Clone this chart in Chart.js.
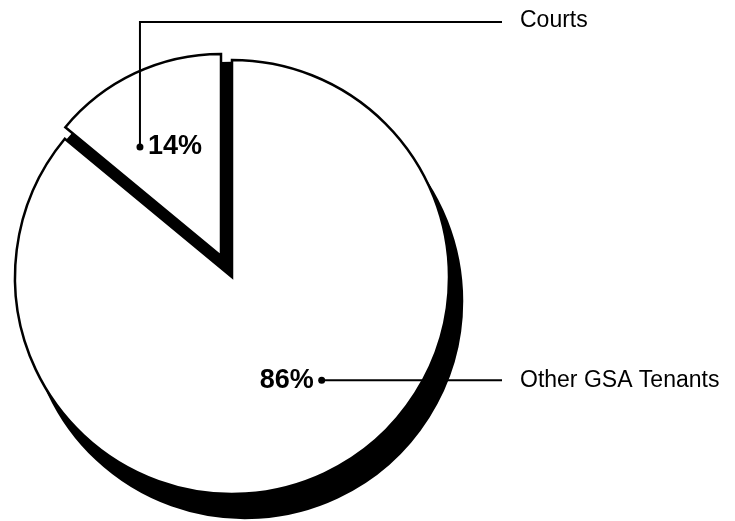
<!DOCTYPE html>
<html>
<head>
<meta charset="utf-8">
<script src="https://cdn.jsdelivr.net/npm/chart.js@4.4.1/dist/chart.umd.min.js"></script>
<style>
  html, body { margin: 0; padding: 0; background: #fff; }
  #wrap { position: relative; width: 735px; height: 521px; }
  #wrap canvas { position: absolute; left: 0; top: 0; }
</style>
</head>
<body>
<div id="wrap">
  <canvas id="courtsShadow" width="735" height="521"></canvas>
  <canvas id="otherShadow" width="735" height="521"></canvas>
  <canvas id="courtsPie" width="735" height="521"></canvas>
  <canvas id="otherPie" width="735" height="521"></canvas>
</div>
<script>
// share of space, percent
const tenants = ['Courts', 'Other GSA Tenants']
const shares = [14, 86]
const shareLabels = ['14%', '86%']

const W = 735, H = 521
const clear = 'rgba(0,0,0,0)'

// the little slice is pulled out, so each slice gets its own center
const courtsGeo = { x: 221, y: 256, r: 202 }
const otherGeo = { x: 232, y: 277, r: 217 }
// black "depth": the hole left by the pulled-out slice, and a drop under the big one
const courtsHoleGeo = { x: otherGeo.x, y: otherGeo.y, r: otherGeo.r - 3 }
const otherDrop = { dx: 13, dy: 24 }

// callouts: dot placed by angle (deg, clockwise from top) and depth (share of radius)
const callouts = [
  { angle: -35.3, depth: 0.734, textSide: 1, elbowY: 22, lineTo: 502, nameX: 520 },
  { angle: 139, depth: 0.63, textSide: -1, elbowY: null, lineTo: 502, nameX: 520 }
]

const calloutPlugin = {
  id: 'callouts',
  afterDatasetsDraw(chart) {
    const ctx = chart.ctx
    const arc = chart.getDatasetMeta(0).data[1]
    const r = arc.outerRadius
    ctx.save()
    ctx.strokeStyle = '#000'
    ctx.fillStyle = '#000'
    ctx.lineWidth = 2
    callouts.forEach((c, i) => {
      const a = (c.angle - 90) * Math.PI / 180
      const px = arc.x + Math.cos(a) * r * c.depth
      const py = arc.y + Math.sin(a) * r * c.depth

      ctx.beginPath()
      ctx.moveTo(px, py)
      if (c.elbowY !== null) {
        ctx.lineTo(px, c.elbowY)
        ctx.lineTo(c.lineTo, c.elbowY)
      } else {
        ctx.lineTo(c.lineTo, py)
      }
      ctx.stroke()

      ctx.beginPath()
      ctx.arc(px, py, 3.5, 0, Math.PI * 2)
      ctx.fill()

      ctx.textBaseline = 'middle'
      ctx.font = 'bold 27px "Liberation Sans", Arial, sans-serif'
      ctx.textAlign = c.textSide > 0 ? 'left' : 'right'
      ctx.fillText(shareLabels[i], px + c.textSide * 8, py)

      ctx.font = '23px "Liberation Sans", Arial, sans-serif'
      ctx.textAlign = 'left'
      const ny = c.elbowY !== null ? c.elbowY - 1 : py
      ctx.fillText(tenants[i], c.nameX, ny)
    })
    ctx.restore()
  }
}

function pie(id, geo, fills, lines, plugins) {
  return new Chart(document.getElementById(id), {
    type: 'pie',
    data: {
      labels: tenants,
      datasets: [{
        data: shares,
        radius: geo.r,
        backgroundColor: fills,
        borderColor: lines,
        borderWidth: lines.map(c => c === clear ? 0 : 2.5),
        borderJoinStyle: 'miter'
      }]
    },
    options: {
      responsive: false,
      animation: false,
      events: [],
      rotation: -shares[0] * 3.6,
      layout: {
        padding: {
          left: geo.x - geo.r,
          right: W - geo.x - geo.r,
          top: geo.y - geo.r,
          bottom: H - geo.y - geo.r
        }
      },
      plugins: {
        legend: { display: false },
        tooltip: { enabled: false }
      }
    },
    plugins: plugins || []
  })
}

const shift = (g, d) => ({ x: g.x + d.dx, y: g.y + d.dy, r: g.r })

pie('courtsShadow', courtsHoleGeo, ['#000', clear], ['#000', clear])
pie('otherShadow', shift(otherGeo, otherDrop), [clear, '#000'], [clear, '#000'])
pie('courtsPie', courtsGeo, ['#fff', clear], ['#000', clear])
pie('otherPie', otherGeo, [clear, '#fff'], [clear, '#000'], [calloutPlugin])
</script>
</body>
</html>
